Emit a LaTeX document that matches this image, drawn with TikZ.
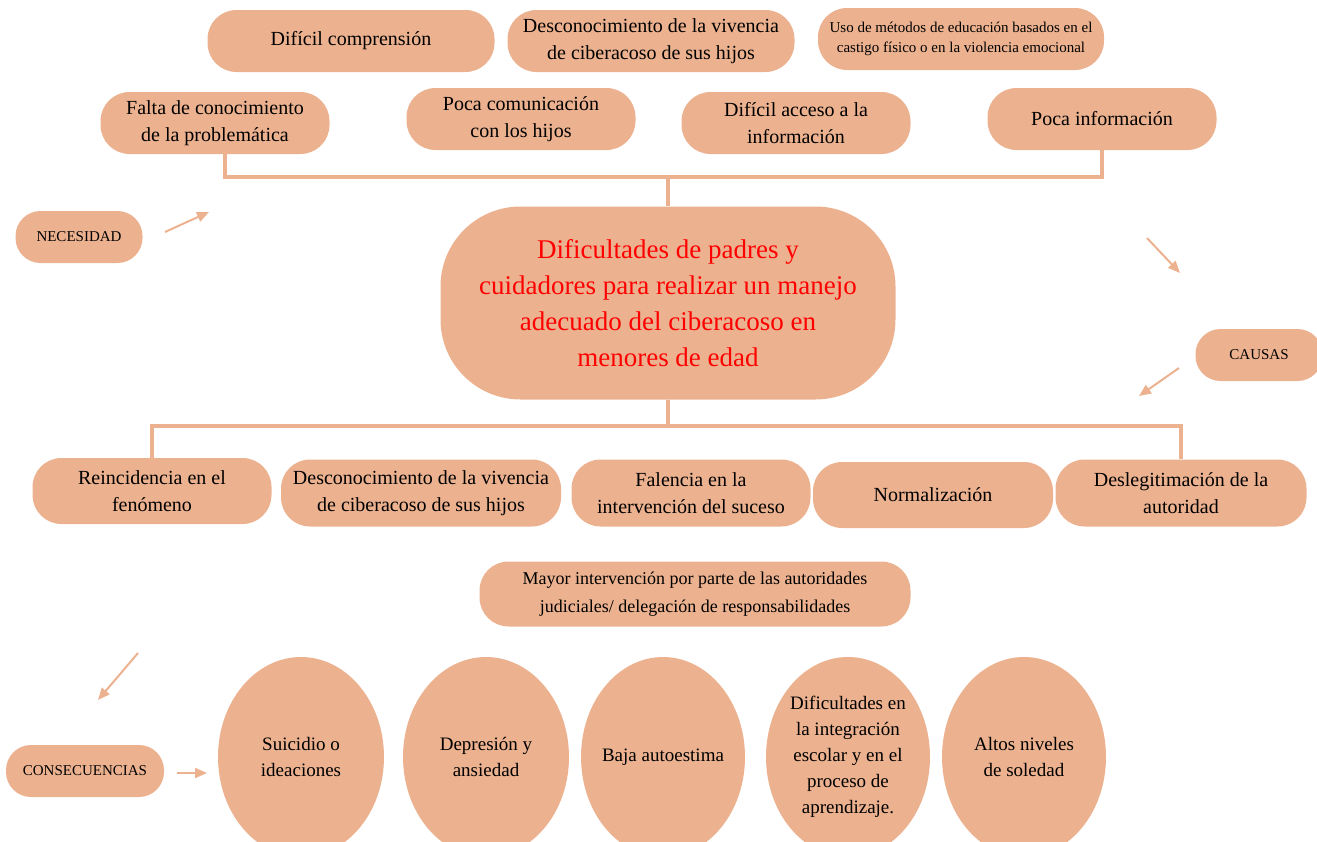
\documentclass[tikz,border=0pt]{standalone}
\usepackage{fontspec}
\setmainfont{Liberation Serif}
\usetikzlibrary{shapes.geometric,arrows.meta}
\definecolor{peach}{RGB}{236,178,144}
\newcommand{\fsz}[2]{\fontsize{#1}{#2}\selectfont}

\begin{document}
\begin{tikzpicture}[x=1pt,y=-1pt,
    pill/.style={rectangle,rounded corners=29pt,fill=peach,inner sep=0pt,align=center,minimum height=62,font=\fsz{20}{27}},
    tag/.style={rectangle,rounded corners=25pt,fill=peach,inner sep=0pt,minimum height=52,minimum width=127,font=\fsz{15}{18}},
    oval/.style={ellipse,fill=peach,inner sep=0pt,minimum width=166,minimum height=200,align=center,font=\fsz{19}{26}},
    link/.style={draw=peach,line width=4pt},
    pointer/.style={draw=peach,line width=2pt,-{Triangle[length=12pt,width=10pt]}}]
                \useasboundingbox (0,0) rectangle (1317,841);
                \clip (0,0) rectangle (1317,841);
                % causes
                \node[pill,minimum width=287] (comprension) at (351,41) {Difícil comprensión};
                \node[pill,minimum width=287] (desconocA) at (651,41) {Desconocimiento de la vivencia\\de ciberacoso de sus hijos};
                \node[pill,minimum width=286,font=\fsz{15}{20}] (castigo) at (961,39) {Uso de métodos de educación basados en el\\castigo físico o en la violencia emocional};
                \node[pill,minimum width=229] (falta) at (215,123) {Falta de conocimiento\\de la problemática};
                \node[pill,minimum width=229] (comunic) at (521,119) {Poca comunicación\\con los hijos};
                \node[pill,minimum width=229] (acceso) at (796,123) {Difícil acceso a la\\información};
                \node[pill,minimum width=229] (info) at (1102,119) {Poca información};
                % problem
                \node[fill=peach,rounded corners=80pt,minimum width=455,minimum height=193,inner sep=0pt,align=center,text=red,font=\fsz{27}{36}] (centre) at (668,303) {Dificultades de padres y\\cuidadores para realizar un manejo\\adecuado del ciberacoso en\\menores de edad};
                % effects
                \node[pill,minimum width=239,minimum height=66] (reinc) at (152,491) {Reincidencia en el\\fenómeno};
                \node[pill,minimum width=280,minimum height=67] (desconocB) at (421,493) {Desconocimiento de la vivencia\\de ciberacoso de sus hijos};
                \node[pill,minimum width=239,minimum height=67] (falencia) at (691,493) {Falencia en la\\intervención del suceso};
                \node[pill,minimum width=240,minimum height=66] (normal) at (933,495) {Normalización};
                \node[pill,minimum width=251,minimum height=67] (desleg) at (1181,493) {Deslegitimación de la\\autoridad};
                \node[pill,minimum width=431,minimum height=65,font=\fsz{18}{28}] (judicial) at (695,594) {Mayor intervención por parte de las autoridades\\judiciales/ delegación de responsabilidades};
                % consequences
                \node[oval] (suicidio) at (301,757) {Suicidio o\\ideaciones};
                \node[oval] (depresion) at (486,757) {Depresión y\\ansiedad};
                \node[oval,minimum width=164,inner sep=-8pt] (autoestima) at (663,757) {Baja autoestima};
                \node[oval,minimum width=164] (escolar) at (848,757) {Dificultades en\\la integración\\escolar y en el\\proceso de\\aprendizaje.};
                \node[oval,minimum width=164] (soledad) at (1024,757) {Altos niveles\\de soledad};
                % labels
                \node[tag] (necesidad) at (79,237) {NECESIDAD};
                \node[tag] (causas) at (1259,355) {CAUSAS};
                \node[tag,minimum width=158] (consec) at (85,771) {CONSECUENCIAS};
                % tree lines
                \coordinate (topbar) at (668,177);
                \draw[link] ([xshift=10pt]falta.south) |- (topbar) -| (info.south);
                \draw[link] (topbar) -- (centre.north);
                \coordinate (botbar) at (668,426);
                \draw[link] (centre.south) -- (botbar);
                \draw[link] (reinc.north) |- (botbar) -| (desleg.north);
                % arrows
                \coordinate (n0) at (165,232);
                \coordinate (n1) at (209,212);
                \coordinate (c0) at (1147,238);
                \coordinate (c1) at (1180,273);
                \coordinate (c2) at (1179,368);
                \coordinate (c3) at (1139,396);
                \coordinate (k0) at (138,653);
                \coordinate (k1) at (98,700);
                \coordinate (k2) at (177,773);
                \coordinate (k3) at (207,773);
                \draw[pointer] (n0) -- (n1);
                \draw[pointer] (c0) -- (c1);
                \draw[pointer] (c2) -- (c3);
                \draw[pointer] (k0) -- (k1);
                \draw[pointer] (k2) -- (k3);
\end{tikzpicture}
\end{document}
